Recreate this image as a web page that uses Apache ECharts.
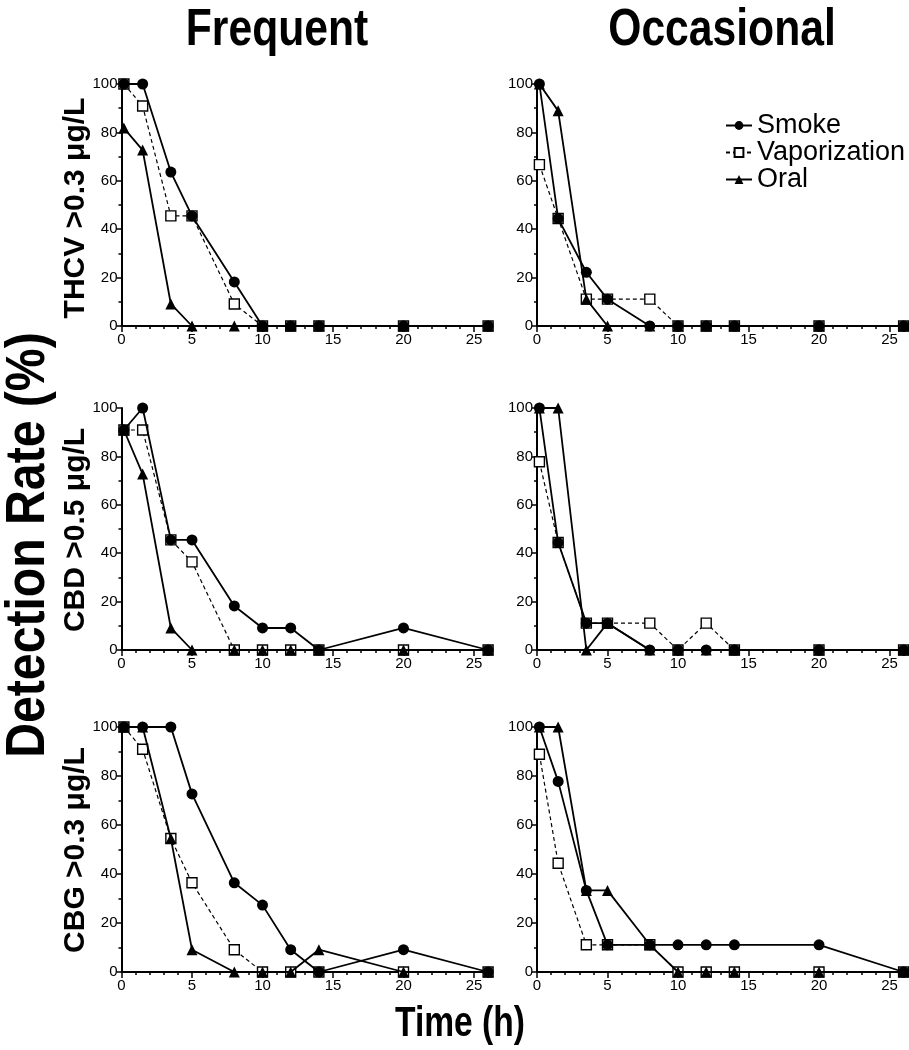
<!DOCTYPE html>
<html>
<head>
<meta charset="utf-8">
<script src="https://cdn.jsdelivr.net/npm/echarts@6/dist/echarts.min.js"></script>
<style>html,body{margin:0;padding:0;background:#fff}#c{width:909px;height:1050px}</style>
</head>
<body>
<div id="c"></div>
<script>
// Sampling times (h)
const times = [0.17, 1.5, 3.5, 5, 8, 10, 12, 14, 20, 26];
const xTicks = [0, 5, 10, 15, 20, 25];
const yTicks = [0, 20, 40, 60, 80, 100];
const seriesNames = ['Smoke', 'Vaporization', 'Oral'];
const columnTitles = ['Frequent', 'Occasional'];
const rowLabels = ['THCV >0.3 \u03bcg/L', 'CBD >0.5 \u03bcg/L', 'CBG >0.3 \u03bcg/L'];

// Frequent users (detection rate %)
const freqThcvSmoke = [100, 100, 63.6, 45.5, 18.2, 0, 0, 0, 0, 0];
const freqThcvVapor = [100, 90.9, 45.5, 45.5, 9.1, 0, 0, 0, 0, 0];
const freqThcvOral  = [81.8, 72.7, 9.1, 0, 0, 0, 0, 0, 0, 0];
const freqCbdSmoke  = [90.9, 100, 45.5, 45.5, 18.2, 9.1, 9.1, 0, 9.1, 0];
const freqCbdVapor  = [90.9, 90.9, 45.5, 36.4, 0, 0, 0, 0, 0, 0];
const freqCbdOral   = [90.9, 72.7, 9.1, 0, 0, 0, 0, 0, 0, 0];
const freqCbgSmoke  = [100, 100, 100, 72.7, 36.4, 27.3, 9.1, 0, 9.1, 0];
const freqCbgVapor  = [100, 90.9, 54.5, 36.4, 9.1, 0, 0, 0, 0, 0];
const freqCbgOral   = [100, 100, 54.5, 9.1, 0, 0, 0, 9.1, 0, 0];

// Occasional users (detection rate %)
const occThcvSmoke = [100, 44.4, 22.2, 11.1, 0, 0, 0, 0, 0, 0];
const occThcvVapor = [66.7, 44.4, 11.1, 11.1, 11.1, 0, 0, 0, 0, 0];
const occThcvOral  = [100, 88.9, 11.1, 0, 0, 0, 0, 0, 0, 0];
const occCbdSmoke  = [100, 44.4, 11.1, 11.1, 0, 0, 0, 0, 0, 0];
const occCbdVapor  = [77.8, 44.4, 11.1, 11.1, 11.1, 0, 11.1, 0, 0, 0];
const occCbdOral   = [100, 100, 0, 11.1, 0, 0, 0, 0, 0, 0];
const occCbgSmoke  = [100, 77.8, 33.3, 11.1, 11.1, 11.1, 11.1, 11.1, 11.1, 0];
const occCbgVapor  = [88.9, 44.4, 11.1, 11.1, 11.1, 0, 0, 0, 0, 0];
const occCbgOral   = [100, 100, 33.3, 33.3, 11.1, 0, 0, 0, 0, 0];

const panels = [
  {smoke: freqThcvSmoke, vapor: freqThcvVapor, oral: freqThcvOral},
  {smoke: occThcvSmoke,  vapor: occThcvVapor,  oral: occThcvOral},
  {smoke: freqCbdSmoke,  vapor: freqCbdVapor,  oral: freqCbdOral},
  {smoke: occCbdSmoke,   vapor: occCbdVapor,   oral: occCbdOral},
  {smoke: freqCbgSmoke,  vapor: freqCbgVapor,  oral: freqCbgOral},
  {smoke: occCbgSmoke,   vapor: occCbgVapor,   oral: occCbgOral}
];

const FONT = 'Liberation Sans, Arial, Helvetica, sans-serif';
const colLeft = [121.5, 537];
const plotW = 366.6;
const rowTop = [84, 408, 727];
const rowH = [242, 242, 245];

const grids = [], xAxes = [], yAxes = [], series = [];
panels.forEach((p, i) => {
  const r = Math.floor(i / 2), c = i % 2;
  grids.push({left: colLeft[c], top: rowTop[r], width: plotW, height: rowH[r], containLabel: false});
  xAxes.push({
    type: 'value', gridIndex: i, min: 0, max: 26, interval: 1, position: 'bottom',
    axisLine: {show: true, onZero: false, lineStyle: {color: '#000', width: 2}},
    axisTick: {show: true, length: 3, lineStyle: {color: '#000', width: 1.5}},
    axisLabel: {show: true, margin: 6, color: '#000', fontSize: 15, fontFamily: FONT,
      formatter: v => (xTicks.indexOf(v) >= 0 ? String(v) : '')},
    splitLine: {show: false}
  });
  xAxes.push({
    type: 'value', gridIndex: i, min: 0, max: 26, interval: 5, position: 'bottom', offset: 0,
    axisLine: {show: false},
    axisTick: {show: true, length: 6, lineStyle: {color: '#000', width: 1.5}},
    axisLabel: {show: false}, splitLine: {show: false}
  });
  yAxes.push({
    type: 'value', gridIndex: i, min: 0, max: 100, interval: 20,
    axisLine: {show: true, onZero: false, lineStyle: {color: '#000', width: 2}},
    axisTick: {show: true, length: 5, lineStyle: {color: '#000', width: 1.5}},
    minorTick: {show: true, splitNumber: 2, length: 3, lineStyle: {color: '#000', width: 1.5}},
    axisLabel: {show: true, margin: 4, color: '#000', fontSize: 15, fontFamily: FONT,
      formatter: v => (yTicks.indexOf(v) >= 0 ? String(v) : '')},
    splitLine: {show: false}
  });
  const mk = vals => times.map((t, k) => [t, vals[k]]);
  series.push({
    name: 'Vaporization', type: 'line', xAxisIndex: 2 * i, yAxisIndex: i, data: mk(p.vapor),
    symbol: 'rect', symbolSize: 10, clip: false, animation: false, z: 2,
    lineStyle: {color: '#000', width: 1.2, type: [4, 3]},
    itemStyle: {color: '#fff', borderColor: '#000', borderWidth: 1.4}
  });
  series.push({
    name: 'Smoke', type: 'line', xAxisIndex: 2 * i, yAxisIndex: i, data: mk(p.smoke),
    symbol: 'circle', symbolSize: 11, clip: false, animation: false, z: 3,
    lineStyle: {color: '#000', width: 1.8},
    itemStyle: {color: '#000', borderColor: '#000', borderWidth: 0}
  });
  series.push({
    name: 'Oral', type: 'line', xAxisIndex: 2 * i, yAxisIndex: i, data: mk(p.oral),
    symbol: 'triangle', symbolSize: 11, clip: false, animation: false, z: 4,
    lineStyle: {color: '#000', width: 1.8},
    itemStyle: {color: '#000', borderColor: '#000', borderWidth: 0}
  });
});

function txt(text, x, y, size, scaleX, rotation, weight) {
  return {
    type: 'text', x: x, y: y, rotation: rotation || 0, scaleX: scaleX, scaleY: 1,
    style: {text: text, fill: '#000', font: (weight || 'bold') + ' ' + size + 'px ' + FONT,
      textAlign: 'center', textVerticalAlign: 'middle'}
  };
}

const graphics = [
  txt(columnTitles[0], 277, 31, 52, 0.82),
  txt(columnTitles[1], 722, 31, 52, 0.82),
  txt(rowLabels[0], 76, 208, 30, 1, Math.PI / 2),
  txt(rowLabels[1], 76, 530, 30, 1, Math.PI / 2),
  txt(rowLabels[2], 76, 850, 30, 1, Math.PI / 2),
  txt('Detection Rate (%)', 29, 545, 56, 0.86, Math.PI / 2),
  txt('Time (h)', 460, 1024, 42, 0.8)
];

const chart = echarts.init(document.getElementById('c'), null, {renderer: 'canvas'});
chart.setOption({
  backgroundColor: '#fff',
  animation: false,
  grid: grids,
  xAxis: xAxes,
  yAxis: yAxes,
  series: series,
  legend: {
    data: seriesNames, orient: 'vertical', left: 720, top: 107, itemGap: 0,
    itemWidth: 26, itemHeight: 11,
    textStyle: {color: '#000', fontSize: 27, fontFamily: FONT, lineHeight: 27, padding: [0, 0, 0, 0]},
    selectedMode: false
  },
  graphic: graphics
});
</script>
</body>
</html>
